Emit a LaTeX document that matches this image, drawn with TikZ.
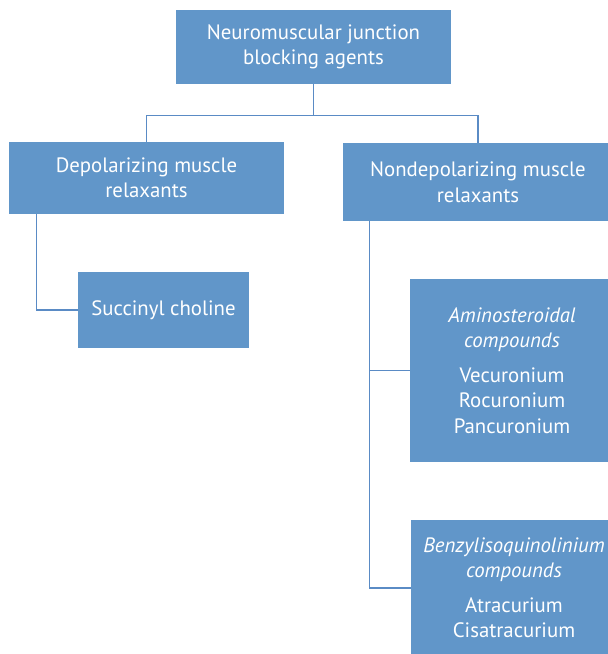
\documentclass[tikz,border=0pt]{standalone}
\usepackage{fontspec}
\setmainfont{PT Sans}
\definecolor{boxblue}{HTML}{6196C9}
\definecolor{linkblue}{HTML}{5A8BC5}
\begin{document}
\begin{tikzpicture}[x=1pt,y=-1pt,
  box/.style={draw=none,fill=boxblue,text=white,align=center,inner sep=0pt,
    font=\fontsize{20.8}{25.5}\selectfont},
  link/.style={draw=linkblue,line width=1.3pt}]
\useasboundingbox (0,0) rectangle (608,654);
\clip (0,0) rectangle (608,654);

% category boxes
\node[box,minimum width=275pt,minimum height=74pt] (top) at (313.5,47)
  {Neuromuscular junction\\blocking agents};
\node[box,minimum width=275pt,minimum height=72pt] (dep) at (146.5,178)
  {Depolarizing muscle\\relaxants};
\node[box,minimum width=270pt,minimum height=78pt] (nondep) at (478,182)
  {Nondepolarizing muscle\\relaxants};
\node[box,minimum width=171pt,minimum height=76pt] (succ) at (163.5,310)
  {Succinyl choline};
\node[box,minimum width=204pt,minimum height=183pt] (amino) at (512,370.5)
  {\textit{Aminosteroidal}\\\textit{compounds}\\[9pt]Vecuronium\\Rocuronium\\Pancuronium};
\node[box,minimum width=206pt,minimum height=136pt] (benzyl) at (514,588)
  {\textit{Benzylisoquinolinium}\\\textit{compounds}\\[9pt]Atracurium\\Cisatracurium};

% tree connectors
\draw[link] (top.south) -- ++(0,31) coordinate (fork) -| (dep.north);
\draw[link] (fork) -| (nondep.north);
\draw[link] ([xshift=28pt]dep.south west) |- (succ.west);
\draw[link] ([xshift=27pt]nondep.south west) |- (amino.west);
\draw[link] ([xshift=27pt]nondep.south west) |- (benzyl.west);
\end{tikzpicture}
\end{document}
